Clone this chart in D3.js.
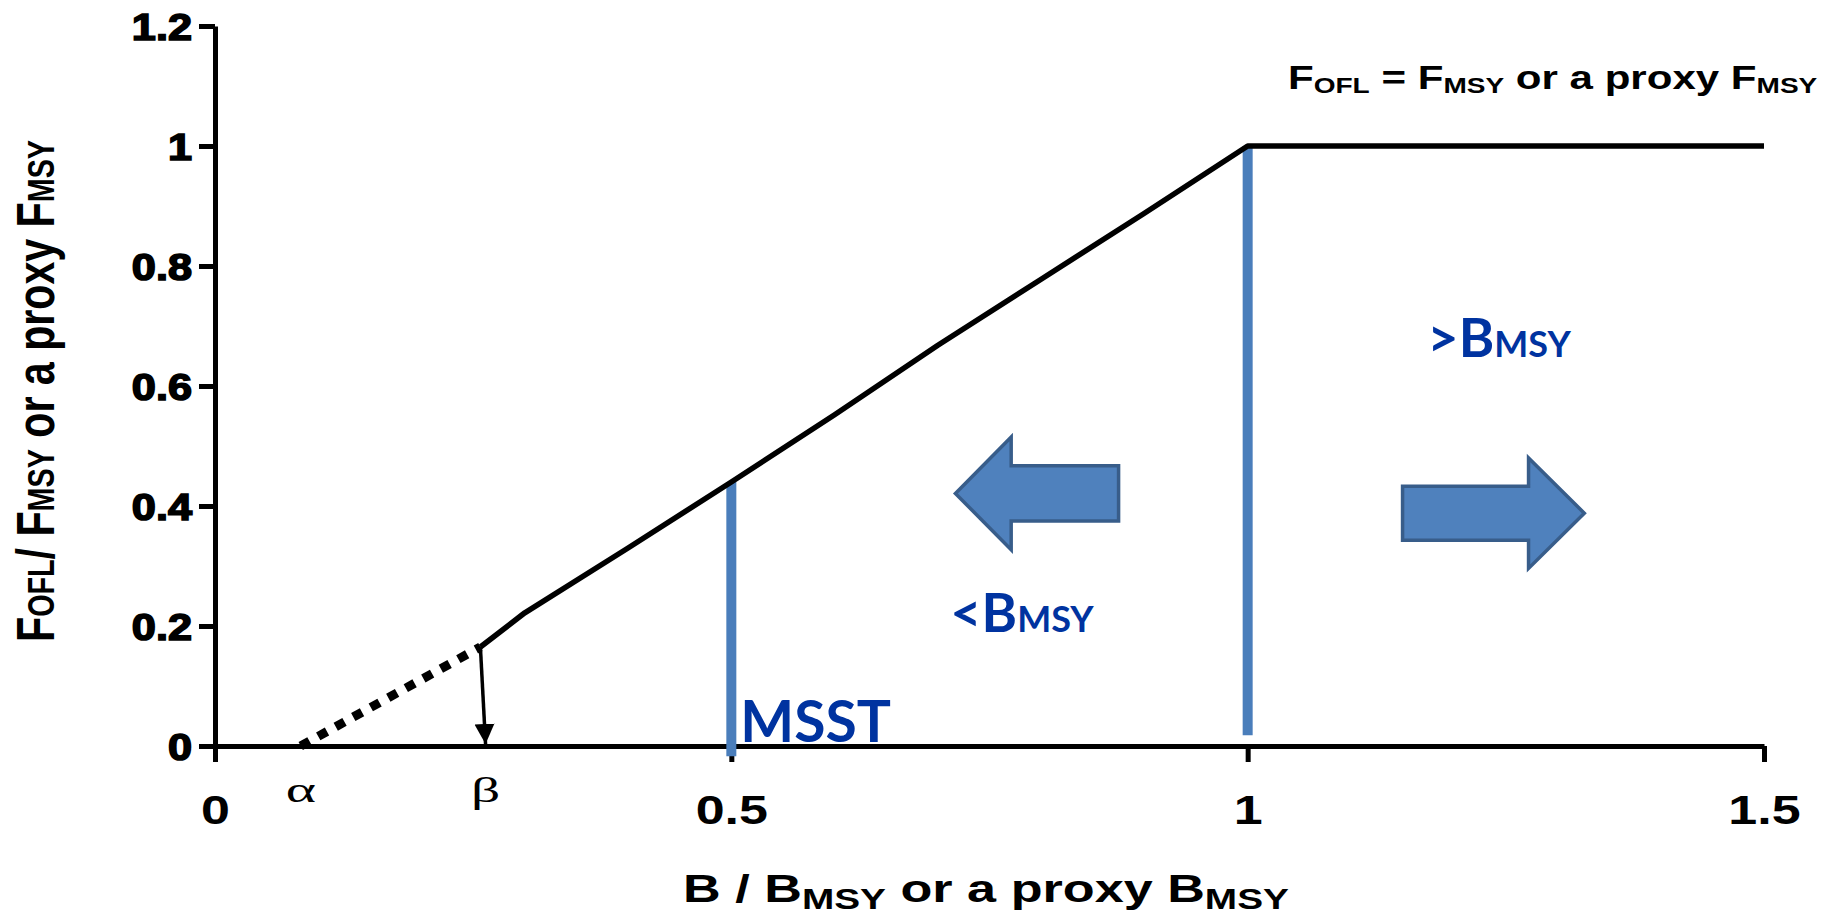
<!DOCTYPE html>
<html>
<head>
<meta charset="utf-8">
<script src="https://cdn.jsdelivr.net/npm/d3@7"></script>
<style>
  body { margin: 0; background: #fff; }
  svg { display: block; }
</style>
</head>
<body>
<div id="chart"></div>
<script>
const width = 1837;
const height = 918;

// ---- data ----
const xTicks = [0, 0.5, 1, 1.5];
const xTickLabels = ["0", "0.5", "1", "1.5"];
const yTicks = [0, 0.2, 0.4, 0.6, 0.8, 1, 1.2];
const yTickLabels = ["0", "0.2", "0.4", "0.6", "0.8", "1", "1.2"];

// control rule (hand drawn in the original, so slightly uneven)
const ruleX = [0.257, 0.3, 0.4, 0.5, 0.6, 0.7, 0.8, 0.9, 1.0, 1.5];
const ruleY = [0.165, 0.222, 0.33, 0.44, 0.552, 0.668, 0.778, 0.888, 1.0, 1.0];
const alpha = 0.083;
const beta = 0.262;

// vertical reference lines: MSST and BMSY
const refX = [0.5, 1.0];
const refTop = [0.44, 1.0];
const refBottom = [-0.017, 0.018];

// direction arrows: tail x, head base x, tip x, centre y, shaft half, head half
const arrowTail = [0.875, 1.150];
const arrowBase = [0.771, 1.272];
const arrowTip = [0.717, 1.326];
const arrowMid = [0.421, 0.388];
const arrowShaft = [0.046, 0.045];
const arrowHead = [0.094, 0.092];

const svg = d3.select("#chart")
    .append("svg")
    .attr("width", width)
    .attr("height", height)
    .style("font-family", "'Liberation Sans', Arial, sans-serif");

const x = d3.scaleLinear().domain([0, 1.5]).range([215, 1764]);
const y = d3.scaleLinear().domain([0, 1.2]).range([746, 26]);

// the original figure is stretched sideways, so text gets squeezed/stretched to fit
function fit(sel, px, py, targetW) {
    const w = sel.node().getBBox().width;
    sel.attr("x", 0).attr("y", 0)
       .attr("transform", `translate(${px},${py}) scale(${targetW / w},1)`);
}

// axes
const xAxis = svg.append("g")
    .attr("transform", `translate(0,${y(0)})`)
    .call(d3.axisBottom(x).tickValues(xTicks).tickSize(16).tickSizeOuter(0)
        .tickFormat((d, i) => xTickLabels[i]));
xAxis.select(".domain").attr("stroke", "#000").attr("stroke-width", 5);
xAxis.selectAll(".tick line").attr("stroke", "#000").attr("stroke-width", 5);
xAxis.selectAll(".tick text")
    .attr("y", 0)
    .attr("dy", 0)
    .attr("transform", "translate(0,78) scale(1.3,1)")
    .attr("fill", "#000")
    .style("font-size", "40px")
    .style("font-weight", "bold");

const yAxis = svg.append("g")
    .attr("transform", `translate(${x(0)},0)`)
    .call(d3.axisLeft(y).tickValues(yTicks).tickSize(16).tickSizeOuter(0)
        .tickFormat((d, i) => yTickLabels[i]));
yAxis.select(".domain").attr("stroke", "#000").attr("stroke-width", 5);
yAxis.selectAll(".tick line").attr("stroke", "#000").attr("stroke-width", 5);
yAxis.selectAll(".tick text")
    .attr("x", 0)
    .attr("dy", "0.36em")
    .attr("transform", "translate(-23,0) scale(1.17,1)")
    .attr("fill", "#000")
    .attr("stroke", "#000")
    .attr("stroke-width", 1.6)
    .style("font-size", "37px")
    .style("font-weight", "bold");

// blue reference lines
svg.append("g")
    .selectAll("line")
    .data(refX)
    .join("line")
    .attr("x1", d => x(d))
    .attr("x2", d => x(d))
    .attr("y1", (d, i) => y(refTop[i]))
    .attr("y2", (d, i) => y(refBottom[i]))
    .attr("stroke", "#4a7ebb")
    .attr("stroke-width", 10);

// control rule
const line = d3.line().x(d => x(d[0])).y(d => y(d[1]));
svg.append("path")
    .datum(ruleX.map((d, i) => [d, ruleY[i]]))
    .attr("d", line)
    .attr("fill", "none")
    .attr("stroke", "#000")
    .attr("stroke-width", 5.5)
    .attr("stroke-linejoin", "round");

// dotted part below beta
svg.append("path")
    .datum([[alpha, 0], [ruleX[0], ruleY[0]]])
    .attr("d", line)
    .attr("fill", "none")
    .attr("stroke", "#000")
    .attr("stroke-width", 9)
    .attr("stroke-dasharray", "10,10");

// arrow from beta point down to the axis
svg.append("defs").append("marker")
    .attr("id", "tri")
    .attr("viewBox", "0 0 10 10")
    .attr("refX", 10).attr("refY", 5)
    .attr("markerWidth", 20).attr("markerHeight", 24)
    .attr("markerUnits", "userSpaceOnUse")
    .attr("orient", "auto")
    .append("path")
    .attr("d", "M0,0 L10,5 L0,10 Z")
    .attr("fill", "#000");

svg.append("line")
    .attr("x1", x(ruleX[0]))
    .attr("y1", y(ruleY[0]))
    .attr("x2", x(beta))
    .attr("y2", y(0) - 2)
    .attr("stroke", "#000")
    .attr("stroke-width", 3.5)
    .attr("marker-end", "url(#tri)");

// greek labels
svg.selectAll("text.greek")
    .data([[alpha, "\u03B1"], [beta, "\u03B2"]])
    .join("text")
    .attr("class", "greek")
    .attr("transform", d => `translate(${x(d[0])},${y(0) + 56}) scale(1.6,1)`)
    .attr("text-anchor", "middle")
    .style("font-family", "'Liberation Serif', 'DejaVu Serif', serif")
    .style("font-size", "36px")
    .text(d => d[1]);

// direction arrows
svg.append("g")
    .selectAll("path")
    .data(arrowTail)
    .join("path")
    .attr("d", (d, i) => {
        const m = arrowMid[i];
        const s = arrowShaft[i];
        const h = arrowHead[i];
        const pts = [
            [d, m + s], [arrowBase[i], m + s], [arrowBase[i], m + h],
            [arrowTip[i], m], [arrowBase[i], m - h], [arrowBase[i], m - s],
            [d, m - s]
        ];
        return "M" + pts.map(p => x(p[0]) + "," + y(p[1])).join("L") + "Z";
    })
    .attr("fill", "#4f81bd")
    .attr("stroke", "#385d8a")
    .attr("stroke-width", 3.5);

// blue text labels
const blue = "#0033a0";
const blueFont = "Lato, 'Open Sans', sans-serif";

svg.append("text")
    .attr("x", x(0.5) + 9)
    .attr("y", y(0) - 4)
    .attr("fill", blue)
    .style("font-family", blueFont)
    .style("font-size", "57px")
    .style("font-weight", "bold")
    .text("MSST");

function bmsy(txt, bx, by) {
    const t = svg.append("text")
        .attr("x", x(bx))
        .attr("y", y(by))
        .attr("fill", blue)
        .style("font-family", blueFont)
        .style("font-weight", "bold");
    t.append("tspan").style("font-size", "54px").text(txt + "B");
    t.append("tspan").style("font-size", "36px").text("MSY");
}
bmsy("<", 0.712, 0.19);
bmsy(">", 1.174, 0.648);

// top right note
const note = svg.append("text")
    .attr("fill", "#000")
    .style("font-size", "33px")
    .style("font-weight", "bold");
note.append("tspan").text("F");
note.append("tspan").attr("dy", 4).style("font-size", "22px").text("OFL");
note.append("tspan").attr("dy", -4).text(" = F");
note.append("tspan").attr("dy", 4).style("font-size", "22px").text("MSY");
note.append("tspan").attr("dy", -4).text(" or a proxy F");
note.append("tspan").attr("dy", 4).style("font-size", "22px").text("MSY");
fit(note, 1288, 89, 530);

// x axis title
const xt = svg.append("text")
    .attr("text-anchor", "middle")
    .attr("fill", "#000")
    .style("font-size", "39px")
    .style("font-weight", "bold");
xt.append("tspan").text("B / B");
xt.append("tspan").attr("dy", 7).style("font-size", "29px").text("MSY");
xt.append("tspan").attr("dy", -7).text(" or a proxy B");
xt.append("tspan").attr("dy", 7).style("font-size", "29px").text("MSY");
fit(xt, 986, 902, 606);

// y axis title (squeezed along its length)
const yt = svg.append("text")
    .attr("transform", "translate(54,391) rotate(-90)")
    .attr("text-anchor", "middle")
    .attr("fill", "#000")
    .attr("textLength", 502)
    .attr("lengthAdjust", "spacingAndGlyphs")
    .style("font-size", "53px")
    .style("font-weight", "bold");
yt.append("tspan").text("F");
yt.append("tspan").style("font-size", "37px").text("OFL");
yt.append("tspan").text("/ F");
yt.append("tspan").style("font-size", "37px").text("MSY");
yt.append("tspan").text(" or a proxy F");
yt.append("tspan").style("font-size", "37px").text("MSY");
</script>
</body>
</html>
